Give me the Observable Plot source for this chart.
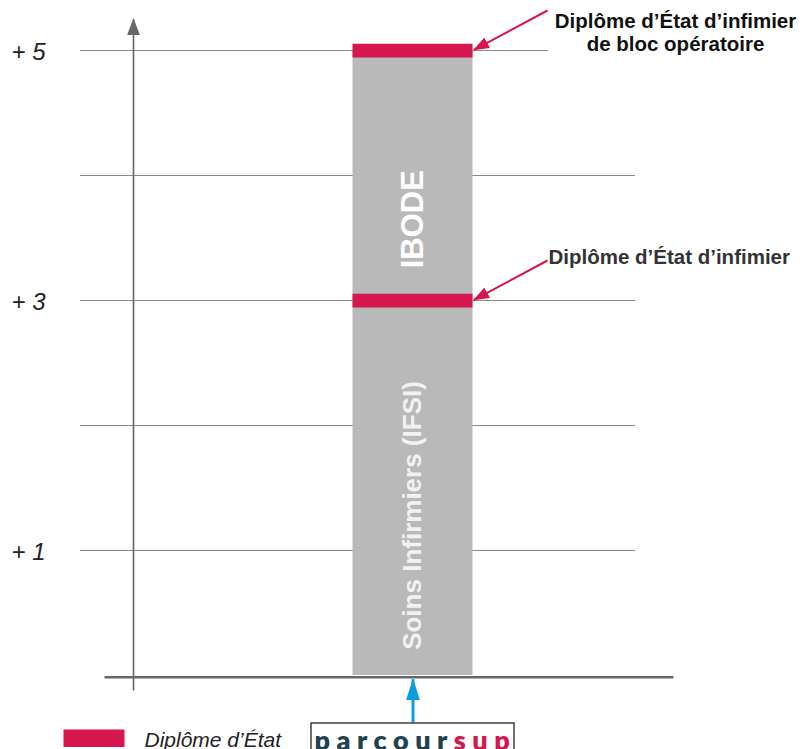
<!DOCTYPE html>
<html><head><meta charset="utf-8">
<script src="https://cdn.jsdelivr.net/npm/d3@7"></script>
<script src="https://cdn.jsdelivr.net/npm/@observablehq/plot@0.6"></script>
<style>body{margin:0;background:#fff;overflow:hidden} svg{display:block}</style>
</head><body><div id="chart"></div>
<script>
// ---- data ----
const stageLabels = ["Soins Infirmiers (IFSI)", "IBODE"];
const stageStart = [0, 3];
const stageEnd = [3, 5];
const diplomaYears = [3, 5];
const diplomaLabels = ["Diplôme d’État d’infimier", "Diplôme d’État d’infimier\nde bloc opératoire"];
const gridYears = [1, 2, 3, 4, 5];
const tickYears = [1, 3, 5];
const tickLabels = ["+ 1", "+ 3", "+ 5"];
const legendLabel = "Diplôme d’État";
const entryLabel = "parcoursup";

const stages = stageLabels.map((label, i) => ({label, start: stageStart[i], end: stageEnd[i], i}));
const diplomas = diplomaYears.map((year, i) => ({year, label: diplomaLabels[i]}));
const ticks = tickYears.map((year, i) => ({year, label: tickLabels[i]}));

// ---- layout / style ----
const RED = "#d5164f", GRAY = "#b9b9b9", BLUE = "#0aa0df", NAVY = "#22404f", AXIS = "#676767";
const W = 803, H = 749;
const barX1 = 352.5, barX2 = 472.5, barMid = 412.5;
const labelShift = [-0.22, -0.35];
const FONT = "'Liberation Sans', Arial, Helvetica, sans-serif";

const plot = Plot.plot({
  width: W, height: H, margin: 0,
  x: {type: "identity", axis: null},
  y: {domain: [0, 5], range: [675, 50], axis: null},
  style: {fontFamily: FONT, background: "white", overflow: "hidden"},
  marks: [
    Plot.ruleY(gridYears, {x1: 80, x2: d => d === 5 ? 548 : 635, stroke: "#8a8a8a", strokeWidth: 1.2}),
    Plot.rect(stages, {x1: barX1, x2: barX2, y1: "start", y2: "end", fill: GRAY}),
    Plot.rect(diplomas, {x1: barX1, x2: barX2, y1: d => d.year - 0.06, y2: d => d.year + 0.05, fill: RED}),
    Plot.text(stages.filter(d => d.i === 0), {x: barMid, y: d => (d.start + d.end) / 2 + labelShift[d.i], text: "label",
      rotate: -90, fill: "#f2f2f2", fontWeight: "bold", fontSize: 26}),
    Plot.text(stages.filter(d => d.i === 1), {x: barMid, y: d => (d.start + d.end) / 2 + labelShift[d.i], text: "label",
      rotate: -90, fill: "#ffffff", fontWeight: "bold", fontSize: 31}),
    // horizontal axis
    Plot.ruleY([0], {x1: 104.5, x2: 673.5, dy: 1.8, stroke: AXIS, strokeWidth: 2.6}),
    // vertical axis with arrow
    Plot.link([0], {x1: 133, x2: 133, y1: -0.12, y2: 5.25, stroke: AXIS, strokeWidth: 1.6}),
    // tick labels
    Plot.text(ticks, {frameAnchor: "left", y: "year", text: "label", dx: 11, dy: 2, textAnchor: "start",
      fontStyle: "italic", fontSize: 24, fill: "#222"}),
    // annotation arrows
    Plot.link(diplomas, {x1: 547, y1: d => d.year + 0.32, x2: 473.5, y2: d => d.year + 0.005,
      stroke: RED, strokeWidth: 2}),
    Plot.text(diplomas.filter(d => d.year === 5), {x: 675, y: "year", text: "label", dy: 0, lineAnchor: "bottom",
      textAnchor: "middle", lineHeight: 1.1, fontWeight: "bold", fontSize: 20.5, fill: "#111"}),
    Plot.text(diplomas.filter(d => d.year === 3), {x: 548, y: "year", text: "label", dy: -37, lineAnchor: "bottom",
      textAnchor: "start", fontWeight: "bold", fontSize: 20.5, fill: "#333"}),
    // entry arrow
    Plot.link([0], {x1: barMid, x2: barMid, y1: -0.376, y2: -0.03, stroke: BLUE, strokeWidth: 3}),
    // logo box
    Plot.frame({fill: "white", stroke: "#222", strokeWidth: 1.3, insetLeft: 310.5, insetRight: W - 513.5, insetTop: 722.5, insetBottom: -4}),
    Plot.text([entryLabel], {frameAnchor: "bottom-left", text: d => d, dx: 314, dy: 0, lineAnchor: "bottom",
      textAnchor: "start", fontFamily: "Lato, 'Open Sans', sans-serif", fontWeight: 800, fontSize: 27, fill: NAVY}),
    // legend
    Plot.frame({fill: RED, stroke: null, insetLeft: 63, insetRight: W - 124, insetTop: 729, insetBottom: H - 746.5}),
    Plot.text([legendLabel], {frameAnchor: "bottom-left", text: d => d, dx: 144, dy: -3, lineAnchor: "bottom",
      textAnchor: "start", fontStyle: "italic", fontSize: 21, fill: "#222"})
  ]
});

// arrowheads
const svg = d3.select(plot);
const defs = svg.insert("defs", ":first-child");
function addMarker(id, len, wid, color, tip) {
  defs.append("marker")
    .attr("id", id)
    .attr("viewBox", `${-len + tip} ${-wid / 2} ${len} ${wid}`)
    .attr("markerWidth", len).attr("markerHeight", wid)
    .attr("markerUnits", "userSpaceOnUse")
    .attr("orient", "auto").attr("refX", 0).attr("refY", 0)
    .append("path")
    .attr("d", `M${tip},0L${tip - len},${-wid / 2}L${tip - len},${wid / 2}Z`)
    .attr("fill", color).attr("stroke", "none");
}
addMarker("m-axis", 17, 13, AXIS, 1);
addMarker("m-red", 16, 12, RED, 1);
addMarker("m-blue", 22, 14, BLUE, 1);
const markerByStroke = {[AXIS]: "m-axis", [RED]: "m-red", [BLUE]: "m-blue"};
svg.selectAll("g").each(function () {
  const g = d3.select(this);
  if (g.attr("aria-label") !== "link") return;
  const s = (g.attr("stroke") || "").toLowerCase();
  let id = markerByStroke[s];
  g.selectAll("path").each(function () {
    const p = d3.select(this);
    const ps = (p.attr("stroke") || s).toLowerCase();
    const mid = markerByStroke[ps] || id;
    if (mid) p.attr("marker-end", `url(#${mid})`);
  });
});

// two-colour logo text
svg.selectAll("text").filter(function () { return this.textContent === entryLabel; })
  .each(function () {
    const t = d3.select(this);
    t.text(null);
    t.append("tspan").attr("fill", NAVY).text(entryLabel.slice(0, 7));
    t.append("tspan").attr("fill", RED).text(entryLabel.slice(7));
  })
  .style("letter-spacing", "6.5px");

document.getElementById("chart").appendChild(plot);
</script>
</body></html>
